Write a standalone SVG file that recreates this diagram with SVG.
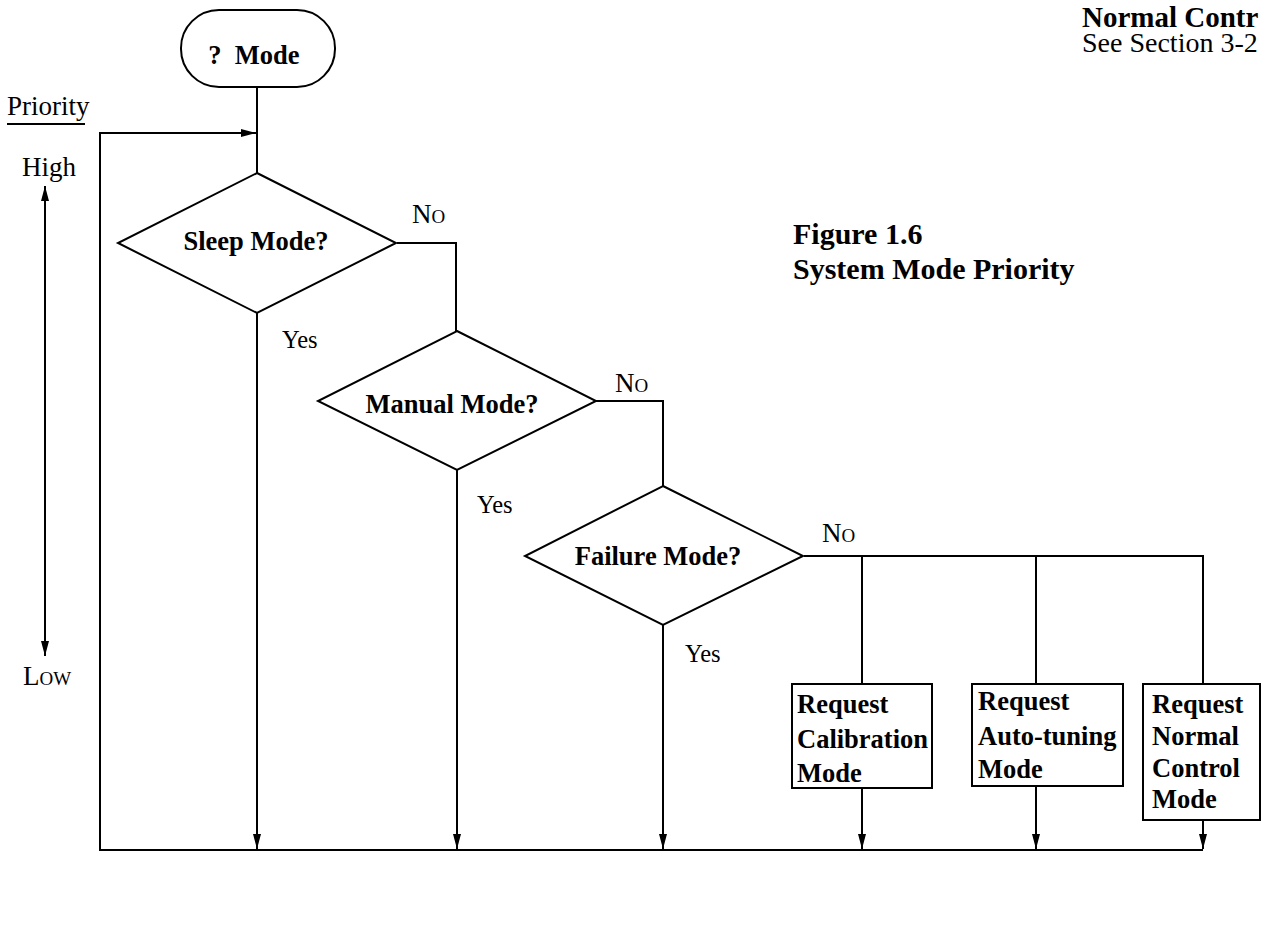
<svg xmlns="http://www.w3.org/2000/svg" width="1264" height="933" viewBox="0 0 1264 933">
<style>
.sh{fill:#fff;stroke:#000;stroke-width:2}
.ln{fill:none;stroke:#000;stroke-width:2}
.b{font-family:"Liberation Serif",serif;font-weight:bold;font-size:26.5px;fill:#000}
.r{font-family:"Liberation Serif",serif;font-size:27px;fill:#000}
.y{font-size:24.5px}
.sc{font-variant:small-caps}
.m{text-anchor:middle}
.cap{font-size:30px}
</style>
<defs>
<marker id="ah" markerWidth="15" markerHeight="8" refX="15" refY="4" orient="auto" markerUnits="userSpaceOnUse">
<path d="M0,0 L15,4 L0,8 z" fill="#000"/>
</marker>
</defs>
<rect width="1264" height="933" fill="#fff"/>

<g id="connectors">
<line class="ln" x1="257" y1="87" x2="257" y2="174"/>
<path class="ln" d="M1203,850 L100,850 L100,133 L256,133" marker-end="url(#ah)"/>
<polyline class="ln" points="397,243 456,243 456,331"/>
<polyline class="ln" points="596,401 663,401 663,486"/>
<polyline class="ln" points="804,556 1203,556 1203,684"/>
<line class="ln" x1="862" y1="556" x2="862" y2="684"/>
<line class="ln" x1="1036" y1="556" x2="1036" y2="684"/>
<line class="ln" x1="257" y1="313" x2="257" y2="849" marker-end="url(#ah)"/>
<line class="ln" x1="457" y1="470" x2="457" y2="849" marker-end="url(#ah)"/>
<line class="ln" x1="663" y1="625" x2="663" y2="849" marker-end="url(#ah)"/>
<line class="ln" x1="862" y1="788" x2="862" y2="849" marker-end="url(#ah)"/>
<line class="ln" x1="1036" y1="786" x2="1036" y2="849" marker-end="url(#ah)"/>
<line class="ln" x1="1203" y1="820" x2="1203" y2="849" marker-end="url(#ah)"/>
<text class="r sc" x="412" y="223">No</text>
<text class="r y" x="282" y="348">Yes</text>
<text class="r sc" x="615" y="392">No</text>
<text class="r y" x="477" y="513">Yes</text>
<text class="r sc" x="822" y="542">No</text>
<text class="r y" x="685" y="662">Yes</text>
</g>

<g id="priority-scale">
<text class="r" x="7" y="115">Priority</text>
<line class="ln" x1="7" y1="124" x2="85" y2="124"/>
<text class="r" x="22" y="176">High</text>
<line class="ln" x1="45" y1="640" x2="45" y2="186" marker-end="url(#ah)"/>
<line class="ln" x1="45" y1="200" x2="45" y2="656" marker-end="url(#ah)"/>
<text class="r sc" x="23" y="685">Low</text>
</g>

<g id="start">
<rect class="sh" x="181" y="10" width="154" height="77" rx="38" ry="38"/>
<text class="b m" x="254" y="64" xml:space="preserve">?  Mode</text>
</g>

<g id="sleep">
<polygon class="sh" points="257,173 396,243 257,313 118,243"/>
<text class="b m" x="256" y="250">Sleep Mode?</text>
</g>

<g id="manual">
<polygon class="sh" points="457,331 596,401 457,470 318,401"/>
<text class="b m" x="452" y="413">Manual Mode?</text>
</g>

<g id="failure">
<polygon class="sh" points="663,486 803,556 663,625 525,556"/>
<text class="b m" x="658" y="565">Failure Mode?</text>
</g>

<g id="calibration">
<rect class="sh" x="792" y="684" width="140" height="104"/>
<text class="b" x="797" y="713">Request</text>
<text class="b" x="797" y="748">Calibration</text>
<text class="b" x="797" y="782">Mode</text>
</g>

<g id="autotuning">
<rect class="sh" x="972" y="684" width="151" height="102"/>
<text class="b" x="978" y="710">Request</text>
<text class="b" x="978" y="745">Auto-tuning</text>
<text class="b" x="978" y="778">Mode</text>
</g>

<g id="normal">
<rect class="sh" x="1143" y="684" width="117" height="136"/>
<text class="b" x="1152" y="713">Request</text>
<text class="b" x="1152" y="745">Normal</text>
<text class="b" x="1152" y="777">Control</text>
<text class="b" x="1152" y="808">Mode</text>
</g>

<g id="caption">
<text class="b cap" x="793" y="244">Figure 1.6</text>
<text class="b cap" x="793" y="279">System Mode Priority</text>
</g>

<g id="note">
<text class="b" style="font-size:29px" x="1082" y="27">Normal Contr</text>
<text class="r" style="font-size:28px" x="1082" y="52">See Section 3-2</text>
</g>
</svg>
